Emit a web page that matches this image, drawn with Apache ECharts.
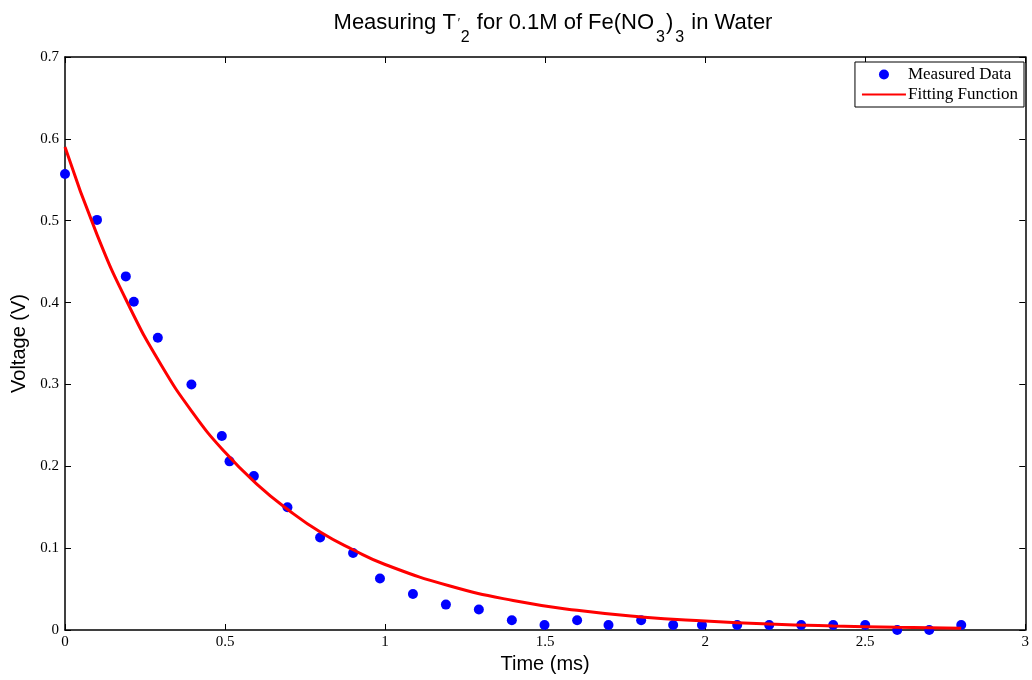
<!DOCTYPE html>
<html><head><meta charset="utf-8">
<script src="https://cdn.jsdelivr.net/npm/echarts@6/dist/echarts.min.js"></script>
<style>html,body{margin:0;padding:0;background:#fff}#c{width:1032px;height:680px}</style>
</head><body><div id="c"></div>
<script>
// Measured data (time in ms, voltage in V)
var measuredTime = [0, 0.1, 0.19, 0.215, 0.29, 0.395, 0.49, 0.514, 0.59, 0.695, 0.797, 0.9, 0.984, 1.087, 1.19, 1.293, 1.396, 1.498, 1.6, 1.698, 1.8, 1.9, 1.99, 2.1, 2.2, 2.3, 2.4, 2.5, 2.6, 2.7, 2.8];
var measuredVolt = [0.557, 0.501, 0.432, 0.401, 0.357, 0.300, 0.237, 0.206, 0.188, 0.150, 0.113, 0.094, 0.063, 0.044, 0.031, 0.025, 0.012, 0.006, 0.012, 0.006, 0.012, 0.006, 0.006, 0.006, 0.006, 0.006, 0.006, 0.006, 0.0, 0.0, 0.006];
// Fitting function, values
var fitTime = [0, 0.1, 0.2, 0.3, 0.4, 0.5, 0.6, 0.7, 0.8, 0.9, 1.0, 1.2, 1.4, 1.6, 1.8, 2.0, 2.2, 2.4, 2.6, 2.8];
var fitVolt = [0.59, 0.483, 0.396, 0.324, 0.265, 0.217, 0.178, 0.146, 0.119, 0.098, 0.080, 0.054, 0.036, 0.024, 0.016, 0.011, 0.0073, 0.0049, 0.0033, 0.0022];
var xTicks = [0, 0.5, 1, 1.5, 2, 2.5, 3];
var yTicks = [0, 0.1, 0.2, 0.3, 0.4, 0.5, 0.6, 0.7];

var serif = 'Liberation Serif';
var sans = 'Liberation Sans';
var chart = echarts.init(document.getElementById('c'));
var lineStyleAxis = {color: '#000', width: 1.5};
var tick = {show: true, inside: true, length: 6, lineStyle: {color: '#000', width: 1}};
chart.setOption({
  animation: false,
  backgroundColor: '#fff',
  title: {
    text: '{m|Measuring T}{p|\u2032}{s|2}{m| for 0.1M of Fe(NO}{s|3}{m|)}{s|3}{m| in Water}',
    left: 548, textAlign: 'center', top: 7,
    textStyle: {
      fontWeight: 'normal',
      rich: {
        m: {fontFamily: sans, fontSize: 22, fontWeight: 'normal', color: '#000', lineHeight: 30, verticalAlign: 'top'},
        s: {fontFamily: sans, fontSize: 16, fontWeight: 'normal', color: '#000', lineHeight: 16, verticalAlign: 'top', padding: [18, 1, 0, 2]},
        p: {fontFamily: sans, fontSize: 12, fontWeight: 'normal', color: '#000', width: 0, lineHeight: 16, verticalAlign: 'top', padding: [6, 0, 0, 3]}
      }
    }
  },
  grid: {left: 65, right: 4, top: 57, bottom: 50, containLabel: false},
  legend: {
    orient: 'vertical', right: 8, top: 62, align: 'left',
    backgroundColor: '#fff', borderColor: '#000', borderWidth: 1, borderRadius: 0,
    padding: [4, 6, 4, 6], itemGap: 3, itemWidth: 44, itemHeight: 10,
    textStyle: {fontFamily: serif, fontSize: 17, color: '#000', padding: [0, 0, 0, -3]},
    data: [
      {name: 'Measured Data', icon: 'circle'},
      {name: 'Fitting Function', itemStyle: {opacity: 0}}
    ]
  },
  xAxis: [{
    type: 'value', min: 0, max: 3, interval: 0.5, position: 'bottom',
    name: 'Time (ms)', nameLocation: 'middle', nameGap: 22,
    nameTextStyle: {fontFamily: sans, fontSize: 20, color: '#000'},
    axisLine: {show: true, onZero: false, lineStyle: lineStyleAxis},
    axisTick: tick, splitLine: {show: false},
    axisLabel: {fontFamily: serif, fontSize: 15, color: '#000', margin: 5,
      formatter: function (v) { return xTicks.indexOf(v) >= 0 ? String(v) : ''; }}
  }, {
    type: 'value', min: 0, max: 3, interval: 0.5, position: 'top',
    axisLine: {show: true, onZero: false, lineStyle: lineStyleAxis},
    axisTick: tick, axisLabel: {show: false}, splitLine: {show: false}
  }],
  yAxis: [{
    type: 'value', min: 0, max: 0.7, interval: 0.1, position: 'left',
    name: 'Voltage (V)', nameLocation: 'middle', nameGap: 36, nameRotate: 90,
    nameTextStyle: {fontFamily: sans, fontSize: 20, color: '#000'},
    axisLine: {show: true, onZero: false, lineStyle: lineStyleAxis},
    axisTick: tick, splitLine: {show: false},
    axisLabel: {fontFamily: serif, fontSize: 15, color: '#000', margin: 6,
      formatter: function (v) { var r = Math.round(v * 10) / 10; return yTicks.indexOf(r) >= 0 ? String(r) : ''; }}
  }, {
    type: 'value', min: 0, max: 0.7, interval: 0.1, position: 'right',
    axisLine: {show: true, onZero: false, lineStyle: lineStyleAxis},
    axisTick: tick, axisLabel: {show: false}, splitLine: {show: false}
  }],
  series: [{
    name: 'Measured Data', type: 'scatter', symbol: 'circle', symbolSize: 10,
    itemStyle: {color: '#0000ff', opacity: 1}, z: 3,
    data: measuredTime.map(function (t, i) { return [t, measuredVolt[i]]; })
  }, {
    name: 'Fitting Function', type: 'line', smooth: 0.5, symbol: 'none', showSymbol: false,
    lineStyle: {color: '#ff0000', width: 3}, itemStyle: {color: '#ff0000'}, z: 4,
    data: fitTime.map(function (t, i) { return [t, fitVolt[i]]; })
  }]
});
</script></body></html>
